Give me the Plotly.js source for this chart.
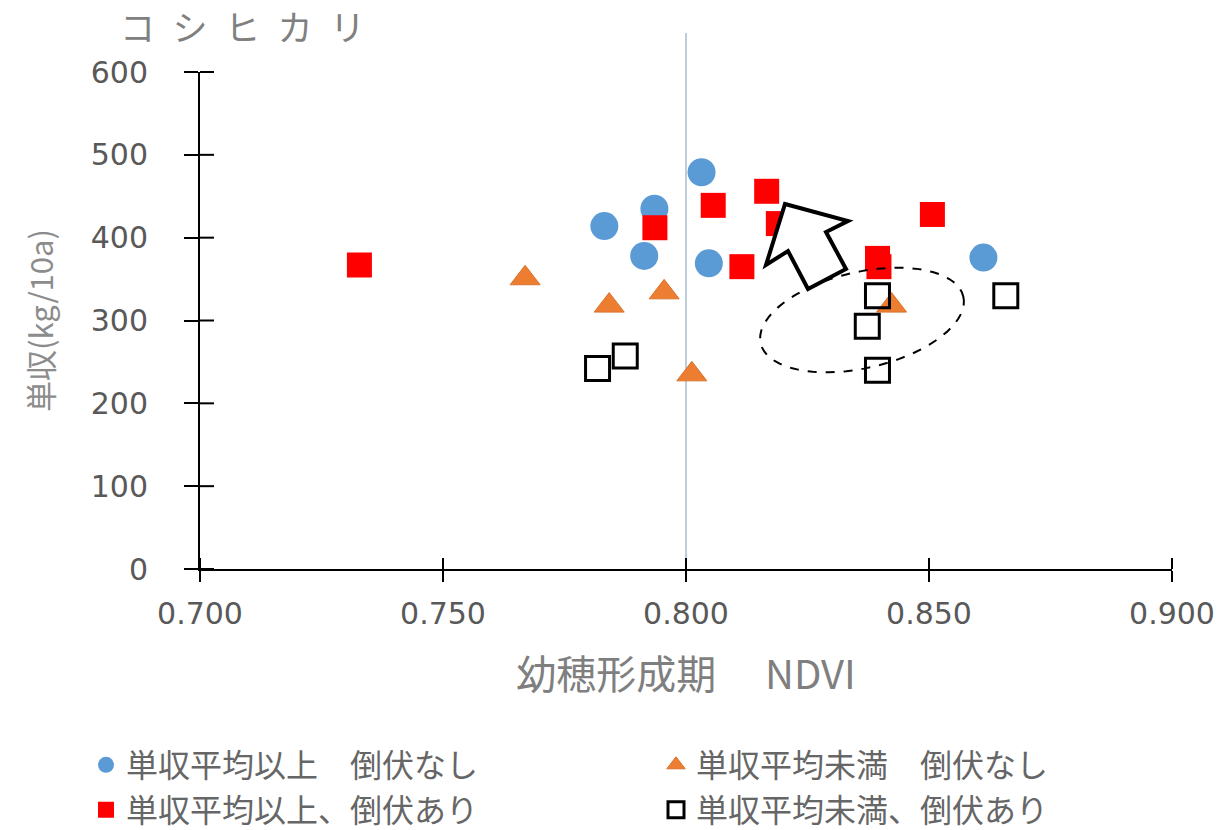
<!DOCTYPE html>
<html>
<head>
<meta charset="utf-8">
<script src="https://cdn.plot.ly/plotly-3.0.1.min.js"></script>
<style>html,body{margin:0;padding:0;background:#fff;}#chart{width:1226px;height:830px;}</style>
</head>
<body>
<div id="chart"></div>
<script>
// ---- data ----
const seriesNames = [
  "単収平均以上　倒伏なし",
  "単収平均未満　倒伏なし",
  "単収平均以上、倒伏あり",
  "単収平均未満、倒伏あり"
];
const aboveNoLodgX = [0.7832, 0.7935, 0.7914, 0.8032, 0.8047, 0.8612];
const aboveNoLodgY = [414, 435, 378, 479, 369, 376];
const belowNoLodgX = [0.7669, 0.7842, 0.7955, 0.8012, 0.8423];
const belowNoLodgY = [351, 318, 334, 235, 318];
const aboveLodgX = [0.7328, 0.7936, 0.8056, 0.8166, 0.8190, 0.8115, 0.8507, 0.8394, 0.8397];
const aboveLodgY = [367, 412, 439, 456, 417, 365, 428, 375, 365];
const belowLodgX = [0.7818, 0.7875, 0.8394, 0.8373, 0.8394, 0.8658];
const belowLodgY = [242, 257, 330, 293, 240, 330];
const xTickVals = [0.70, 0.75, 0.80, 0.85, 0.90];
const yTickVals = [0, 100, 200, 300, 400, 500, 600];
const refNDVI = 0.80;

// ---- layout geometry ----
const L = 200, R = 54, T = 72, B = 261, W = 1226, H = 830;
const pw = W - L - R, ph = H - T - B;
const xr = [0.7, 0.9], yr = [0, 600];
// pixel -> data helpers for decorative shapes
const px2x = p => xr[0] + (p - L) / pw * (xr[1] - xr[0]);
const py2y = p => yr[0] + (H - B - p) / ph * (yr[1] - yr[0]);

// dashed ellipse (decoration): centre, semi-axes, tilt in pixels
function ellipsePath(cx, cy, a, b, deg) {
  const t = deg * Math.PI / 180;
  let d = "";
  for (let i = 0; i <= 72; i++) {
    const u = i / 72 * 2 * Math.PI;
    const ex = a * Math.cos(u), ey = b * Math.sin(u);
    const X = cx + ex * Math.cos(t) + ey * Math.sin(t);
    const Y = cy - ex * Math.sin(t) + ey * Math.cos(t);
    d += (i === 0 ? "M" : "L") + px2x(X) + "," + py2y(Y);
  }
  return d + "Z";
}
// block arrow outline (decoration), pixel polygon
const arrowPx = [[785,204],[848,221],[826,232],[846,269],[808,289],[788,251],[766,265]];
const arrowPath = arrowPx.map((p, i) => (i ? "L" : "M") + px2x(p[0]) + "," + py2y(p[1])).join("") + "Z";

const traces = [
  {x: aboveNoLodgX, y: aboveNoLodgY, name: seriesNames[0], type: "scatter", mode: "markers", legend: "legend",
   marker: {symbol: "circle", size: 28, color: "#5B9BD5", line: {width: 0}}},
  {x: belowNoLodgX, y: belowNoLodgY, name: seriesNames[1], type: "scatter", mode: "markers", legend: "legend2",
   marker: {symbol: "triangle-up", size: 26, color: "#ED7D31", line: {width: 1, color: "#D8732C"}}},
  {x: aboveLodgX, y: aboveLodgY, name: seriesNames[2], type: "scatter", mode: "markers", legend: "legend3",
   marker: {symbol: "square", size: 25, color: "#FF0000", line: {width: 0}}},
  {x: belowLodgX, y: belowLodgY, name: seriesNames[3], type: "scatter", mode: "markers", legend: "legend4",
   marker: {symbol: "square-open", size: 24, color: "#000000", line: {width: 3, color: "#000000"}}}
];

const tickFont = {family: "DejaVu Sans, Verdana, sans-serif", size: 30, color: "#595959"};
const legFont = {family: "Noto Sans CJK JP", size: 32, color: "#666666"};
function legendAt(px, py) {
  return {orientation: "h", xref: "container", yref: "container",
          x: px / W, xanchor: "left", y: 1 - py / H, yanchor: "middle",
          font: legFont, bgcolor: "rgba(0,0,0,0)"};
}

// inside halves of the crossing tick marks, built from the tick arrays
const tickShapes = [];
xTickVals.forEach(v => tickShapes.push({type: "line", xref: "paper", yref: "paper",
  x0: (v - xr[0]) / (xr[1] - xr[0]), x1: (v - xr[0]) / (xr[1] - xr[0]), y0: 0, y1: 11 / ph,
  line: {color: "#000", width: 2}, layer: "above"}));
yTickVals.forEach(v => tickShapes.push({type: "line", xref: "paper", yref: "paper",
  x0: 0, x1: 14 / pw, y0: (v - yr[0]) / (yr[1] - yr[0]), y1: (v - yr[0]) / (yr[1] - yr[0]),
  line: {color: "#000", width: 2}, layer: "above"}));

const layout = {
  width: W, height: H,
  margin: {l: L, r: R, t: T, b: B},
  paper_bgcolor: "#ffffff", plot_bgcolor: "#ffffff",
  showlegend: true,
  title: {text: "コ\u2002シ\u2002ヒ\u2002カ\u2002リ", x: 120 / W, xref: "container", xanchor: "left",
          y: 1 - 29 / H, yref: "container", yanchor: "middle",
          font: {family: "Noto Sans CJK JP", size: 35, color: "#808080"}},
  xaxis: {range: xr, tickvals: xTickVals, tickformat: ".3f", showgrid: false, zeroline: false,
          showline: true, linecolor: "#000", linewidth: 2,
          ticks: "outside", ticklen: 11, tickwidth: 2, tickcolor: "#000",
          ticklabelstandoff: 6, tickfont: tickFont,
          title: {text: "幼穂形成期　 NDVI", standoff: 31,
                  font: {family: "Noto Sans CJK JP", size: 40, color: "#7f7f7f"}}},
  yaxis: {range: yr, tickvals: yTickVals, showgrid: false, zeroline: false,
          showline: true, linecolor: "#000", linewidth: 2,
          ticks: "outside", ticklen: 14, tickwidth: 2, tickcolor: "#000",
          ticklabelstandoff: 30, tickfont: tickFont,
          title: {text: "単収(kg/10a)", standoff: 28,
                  font: {family: "Noto Sans CJK JP", size: 31, color: "#8c8c8c"}}},
  legend: legendAt(86, 765),
  legend2: legendAt(656, 765),
  legend3: legendAt(86, 810),
  legend4: legendAt(656, 810),
  shapes: [
    {type: "line", xref: "x", yref: "paper", x0: refNDVI, x1: refNDVI, y0: 0, y1: (H - B - 33) / ph,
     line: {color: "#A9BCD0", width: 1.5}, layer: "below"},
    {type: "path", xref: "x", yref: "y", path: ellipsePath(862, 320, 104, 48, 13),
     line: {color: "#000", width: 2, dash: "dash"}, fillcolor: "rgba(0,0,0,0)", layer: "above"},
    {type: "path", xref: "x", yref: "y", path: arrowPath,
     line: {color: "#000", width: 4}, fillcolor: "#ffffff", layer: "above"}
  ].concat(tickShapes)
};

Plotly.newPlot("chart", traces, layout, {staticPlot: true, displayModeBar: false});
</script>
</body>
</html>
